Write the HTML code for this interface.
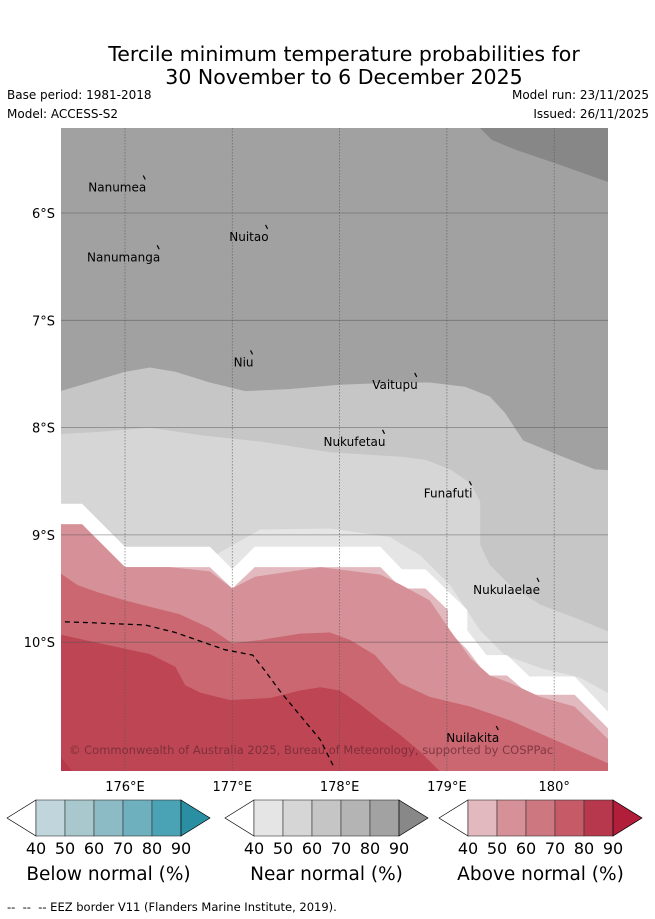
<!DOCTYPE html>
<html><head><meta charset="utf-8">
<style>
html,body{margin:0;padding:0;background:#fff;width:655px;height:919px;overflow:hidden;font-family:"DejaVu Sans","Liberation Sans",sans-serif;}
svg{display:block}
</style></head>
<body>
<svg id="chart" width="655" height="919" viewBox="0 0 655 919">
<text x="344" y="61" text-anchor="middle" font-size="20.5">Tercile minimum temperature probabilities for</text>
<text x="344" y="84" text-anchor="middle" font-size="20.5">30 November to 6 December 2025</text>
<text x="7" y="99" font-size="12">Base period: 1981-2018</text>
<text x="7" y="118" font-size="12">Model: ACCESS-S2</text>
<text x="649" y="99" font-size="12" text-anchor="end">Model run: 23/11/2025</text>
<text x="649" y="118" font-size="12" text-anchor="end">Issued: 26/11/2025</text>
<defs><clipPath id="mapclip"><rect x="61" y="128" width="547" height="643"/></clipPath></defs>
<g id="map" clip-path="url(#mapclip)">
<rect x="61" y="128" width="547" height="643" fill="#a1a1a1"/>
</g>
<g id="overlay"></g>
<g id="legends"></g>
<text x="7" y="911" font-size="11.5">-- &#160;-- &#160;-- EEZ border V11 (Flanders Marine Institute, 2019).</text>
</svg>
<script>
const NS="http://www.w3.org/2000/svg";
const lonTicks=[176,177,178,179,180];
const lonTickLabels=["176°E","177°E","178°E","179°E","180°"];
const latTicks=[6,7,8,9,10];
const latTickLabels=["6°S","7°S","8°S","9°S","10°S"];
const darkTopLon=[179.31,179.42,179.64,180.05,180.50];
const darkTopLat=[5.21,5.32,5.41,5.55,5.71];
const near70Lon=[175.40,175.67,176.0,176.23,176.47,176.79,177.12,177.54,178.0,178.56,178.84,179.17,179.40,179.54,179.71,180.05,180.38,180.55];
const near70Lat=[7.66,7.58,7.48,7.44,7.48,7.58,7.66,7.64,7.60,7.58,7.58,7.62,7.71,7.86,8.12,8.26,8.39,8.40];
const near60Lon=[175.40,175.76,176.23,176.70,177.26,177.91,178.56,178.80,179.03,179.22,179.31,179.31,179.40,179.59,179.87,180.24,180.55];
const near60Lat=[8.06,8.04,8.00,8.07,8.13,8.23,8.27,8.30,8.39,8.52,8.69,9.09,9.28,9.47,9.65,9.79,9.92];
const near50Lon=[176.84,177.26,177.91,178.47,178.75,179.03,179.31,179.54,179.87,180.24,180.55];
const near50Lat=[9.19,8.95,8.94,9.02,9.19,9.47,9.89,10.12,10.24,10.33,10.50];
const whiteLon=[175.40,175.60,176.0,176.79,177.0,177.21,178.38,178.58,178.80,179.19,179.19,179.37,179.56,179.77,180.19,180.55];
const whiteLat=[8.71,8.71,9.11,9.11,9.32,9.11,9.11,9.32,9.32,9.70,9.89,10.12,10.12,10.32,10.32,10.70];
const above40Lon=[175.40,175.60,176.0,176.79,177.0,177.21,178.38,178.58,178.80,179.01,179.01,179.19,179.37,179.56,179.77,180.19,180.55];
const above40Lat=[8.90,8.90,9.30,9.30,9.50,9.30,9.30,9.50,9.50,9.70,9.89,10.07,10.31,10.31,10.49,10.49,10.85];
const above50Lon=[175.40,175.60,176.0,176.42,176.79,177.0,177.21,177.82,178.38,178.58,178.84,179.03,179.22,179.40,179.59,179.87,180.19,180.55];
const above50Lat=[8.90,8.90,9.30,9.30,9.34,9.50,9.39,9.30,9.37,9.47,9.61,9.89,10.15,10.31,10.38,10.51,10.60,10.95];
const above60Lon=[175.40,175.56,175.76,176.0,176.23,176.51,176.79,177.0,177.26,177.63,177.91,178.10,178.33,178.47,178.56,178.84,179.22,179.59,180.05,180.55];
const above60Lat=[9.36,9.47,9.54,9.61,9.67,9.74,9.87,10.01,9.98,9.92,9.91,9.98,10.12,10.28,10.38,10.51,10.60,10.73,10.93,11.15];
const above70Lon=[175.40,175.76,176.23,176.47,176.56,176.70,176.98,177.35,177.63,177.82,178.0,178.19,178.38,178.56,178.75,178.98];
const above70Lat=[9.93,10.01,10.11,10.23,10.40,10.47,10.54,10.52,10.45,10.42,10.45,10.58,10.73,10.86,11.02,11.25];
const above80Lon=[175.40,175.55];
const above80Lat=[11.07,11.25];
const eezLon=[175.44,175.72,176.19,176.47,176.70,176.93,177.19,177.30,177.44,177.63,177.82,177.95];
const eezLat=[9.81,9.82,9.84,9.91,9.99,10.07,10.12,10.26,10.45,10.68,10.91,11.17];
const islandNames=["Nanumea","Nuitao","Nanumanga","Niu","Vaitupu","Nukufetau","Funafuti","Nukulaelae","Nuilakita"];
const islandLon=[176.17,177.31,176.30,177.17,178.70,178.40,179.21,179.84,179.46];
const islandLat=[5.66,6.12,6.31,7.29,7.50,8.03,8.51,9.41,10.79];
const legendTicks=["40","50","60","70","80","90"];
const legendTitles=["Below normal (%)","Near normal (%)","Above normal (%)"];
const legendColors=[
 ["#c0d6dc","#a8c8cd","#8cbac5","#6fb0bf","#4aa3b4","#2a8fa2"],
 ["#e5e5e5","#d6d6d6","#c5c5c5","#b4b4b4","#a2a2a2","#888888"],
 ["#e2b9bf","#d69097","#cd7880","#c65a67","#b7384c","#b01e3a"]];

const X0=125, Y0=213, PX=107.3;
const xs=lon=>X0+(lon-176)*PX;
const ys=lat=>Y0+(lat-6)*PX;
const map=document.getElementById('map');
function mk(tag,attrs,parent){const e=document.createElementNS(NS,tag);for(const k in attrs)e.setAttribute(k,attrs[k]);parent.appendChild(e);return e;}
function band(lons,lats,fill,name){
  let pts=lons.map((l,i)=>xs(l).toFixed(1)+","+ys(lats[i]).toFixed(1));
  pts.push(xs(180.7)+","+ys(11.4));pts.push(xs(175.2)+","+ys(11.4));
  const p=mk('polygon',{points:pts.join(' '),fill:fill},map);
  
  
}
{
  let pts=darkTopLon.map((l,i)=>xs(l).toFixed(1)+","+ys(darkTopLat[i]).toFixed(1));
  pts.push(xs(180.7)+","+ys(5.0));pts.push(xs(darkTopLon[0])+","+ys(5.0));
  const p=mk('polygon',{points:pts.join(' '),fill:'#878787'},map);
  
  
}
band(near70Lon,near70Lat,'#c6c6c6','near-normal-60-70-band');
band(near60Lon,near60Lat,'#d6d6d6','near-normal-50-60-band');
band(near50Lon,near50Lat,'#e5e5e5','near-normal-40-50-band');
band(whiteLon,whiteLat,'#ffffff','no-dominant-band');
band(above40Lon,above40Lat,'#e2b9bf','above-normal-40-50-band');
band(above50Lon,above50Lat,'#d69097','above-normal-50-60-band');
band(above60Lon,above60Lat,'#ca6771','above-normal-60-70-band');
band(above70Lon,above70Lat,'#be4553','above-normal-70-80-band');
band(above80Lon,above80Lat,'#b7384c','above-normal-80-90-band');
lonTicks.forEach((l,i)=>{
  const g=mk('line',{x1:xs(l),x2:xs(l),y1:128,y2:771,stroke:'#555','stroke-width':0.8,'stroke-dasharray':'1.5,1.5','stroke-opacity':0.7},map);
  
  
  const t=mk('text',{x:xs(l),y:791,'font-size':13,'text-anchor':'middle'},document.getElementById('overlay'));
  t.textContent=lonTickLabels[i];
  
  
});
latTicks.forEach((l,i)=>{
  const g=mk('line',{x1:61,x2:608,y1:ys(l),y2:ys(l),stroke:'#555','stroke-width':0.8,'stroke-opacity':0.6},map);
  
  
  const t=mk('text',{x:55,y:ys(l)+5,'font-size':13,'text-anchor':'end'},document.getElementById('overlay'));
  t.textContent=latTickLabels[i];
  
  
});
{
  const pts=eezLon.map((l,i)=>xs(l).toFixed(1)+","+ys(eezLat[i]).toFixed(1)).join(' ');
  const e=mk('polyline',{points:pts,fill:'none',stroke:'#000','stroke-width':1.3,'stroke-dasharray':'5,4'},map);
  
  
}
islandNames.forEach((n,i)=>{
  const x=xs(islandLon[i]), y=ys(islandLat[i]);
  const m=mk('line',{x1:x,y1:y-1,x2:x+2,y2:y+3,stroke:'#000','stroke-width':1.2},map);
  
  
  const t=mk('text',{x:x+3,y:y+15,'font-size':12,'text-anchor':'end'},map);
  t.textContent=n;
  
  
});
{
  const c=mk('text',{x:69,y:754,'font-size':11.5,fill:'#6a2a34','fill-opacity':0.75},map);
  c.textContent="© Commonwealth of Australia 2025, Bureau of Meteorology, supported by COSPPac";
  
  
}
const lg=document.getElementById('legends');
const legendX=[7,225,439];
legendX.forEach((x0,k)=>{
  const g=mk('g',{},lg);
  
  
  const top=800,bot=836,mid=818,cw=29,tri=29;
  const a=mk('polygon',{points:`${x0},${mid} ${x0+tri},${top} ${x0+tri},${bot}`,fill:'#fff',stroke:'#000','stroke-width':0.7},g);
  
  
  for(let i=0;i<5;i++){
    const r=mk('rect',{x:x0+tri+i*cw,y:top,width:cw,height:bot-top,fill:legendColors[k][i],stroke:'#333','stroke-width':0.6},g);
    
    
  }
  const ex=x0+tri+5*cw;
  const b=mk('polygon',{points:`${ex},${top} ${ex+tri},${mid} ${ex},${bot}`,fill:legendColors[k][5],stroke:'#000','stroke-width':0.7},g);
  
  
  legendTicks.forEach((tk,i)=>{
    const t=mk('text',{x:x0+tri+i*cw,y:854,'font-size':16,'text-anchor':'middle'},g);
    t.textContent=tk;
    
    
  });
  const t=mk('text',{x:x0+tri+2.5*cw,y:880,'font-size':18.5,'text-anchor':'middle'},g);
  t.textContent=legendTitles[k];
  
  
});
</script>
</body></html>
